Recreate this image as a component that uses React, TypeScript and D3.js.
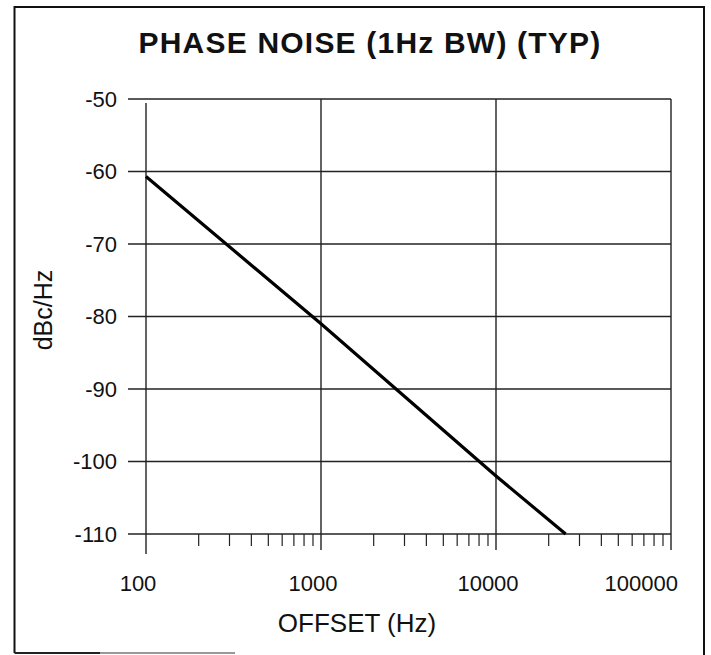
import React from "react";
import * as d3 from "d3";

const offsetHz = [100, 1000, 10000, 25000];
const noiseDbc = [-60.7, -81, -102, -110];
const xTickValues = [100, 1000, 10000, 100000];
const yTickValues = [-50, -60, -70, -80, -90, -100, -110];
const titleText = "PHASE NOISE (1Hz BW) (TYP)";
const xTitle = "OFFSET (Hz)";
const yTitle = "dBc/Hz";

const W = 711;
const H = 655;
const left = 146;
const right = 671;
const top = 99;
const bottom = 534;

export default function App() {
  const x = d3.scaleLog().domain([100, 100000]).range([left, right]);
  const y = d3.scaleLinear().domain([-110, -50]).range([bottom, top]);
  const minor: number[] = [];
  for (let dec = 100; dec < 100000; dec *= 10) {
    for (let k = 2; k <= 9; k++) minor.push(dec * k);
  }
  const pts = offsetHz.map((v, i) => [v, noiseDbc[i]] as [number, number]);
  const line = d3
    .line<[number, number]>()
    .x((d) => x(d[0]))
    .y((d) => y(d[1]));
  const font = "'Liberation Sans', Arial, Helvetica, sans-serif";
  return (
    <svg
      width={W}
      height={H}
      style={{ position: "absolute", left: 0, top: 0, background: "#fff" }}
      fontFamily={font}
    >
      <rect x={0} y={0} width={W} height={H} fill="#fff" />
      {/* frame */}
      <path d={`M14.5,653 L14.5,7 L704,7 L704,655`} fill="none" stroke="#111" strokeWidth={2} />
      <line x1={14.5} x2={100} y1={653} y2={653} stroke="#222" strokeWidth={2} />
      <line x1={100} x2={235} y1={653} y2={653} stroke="#999" strokeWidth={2} />
      {/* title */}
      <text
        x={370}
        y={53}
        textAnchor="middle"
        fontSize={30}
        fontWeight="bold"
        letterSpacing={1.2}
        fill="#111"
      >
        {titleText}
      </text>
      {/* horizontal grid lines + y ticks */}
      {yTickValues.map((v) => (
        <line
          key={"h" + v}
          x1={left - 18}
          x2={right}
          y1={y(v)}
          y2={y(v)}
          stroke="#222"
          strokeWidth={1.3}
        />
      ))}
      {/* vertical grid lines */}
      {xTickValues.map((v) => (
        <line
          key={"v" + v}
          x1={x(v)}
          x2={x(v)}
          y1={v === 100 ? top + 4 : top}
          y2={bottom + (v === 100 ? 20 : 16)}
          stroke="#222"
          strokeWidth={1.4}
        />
      ))}
      {/* minor ticks */}
      {minor.map((v) => (
        <line
          key={"m" + v}
          x1={x(v)}
          x2={x(v)}
          y1={bottom}
          y2={bottom + 12}
          stroke="#222"
          strokeWidth={1.2}
        />
      ))}
      {/* y tick labels */}
      {yTickValues.map((v) => (
        <text
          key={"yl" + v}
          x={117}
          y={y(v)}
          dy="0.36em"
          textAnchor="end"
          fontSize={22}
          fill="#111"
        >
          {v}
        </text>
      ))}
      {/* x tick labels */}
      {xTickValues.map((v, i) => {
        const last = i === xTickValues.length - 1;
        return (
          <text
            key={"xl" + v}
            x={last ? x(v) + 7 : x(v) - 8}
            y={591}
            textAnchor={last ? "end" : "middle"}
            fontSize={22}
            fill="#111"
          >
            {v}
          </text>
        );
      })}
      {/* axis titles */}
      <text x={357} y={632} textAnchor="middle" fontSize={26} fill="#111">
        {xTitle}
      </text>
      <text
        transform={`translate(52,310) rotate(-90)`}
        textAnchor="middle"
        fontSize={25}
        fill="#111"
      >
        {yTitle}
      </text>
      {/* data line */}
      <path d={line(pts) || ""} fill="none" stroke="#000" strokeWidth={3.2} />
    </svg>
  );
}
